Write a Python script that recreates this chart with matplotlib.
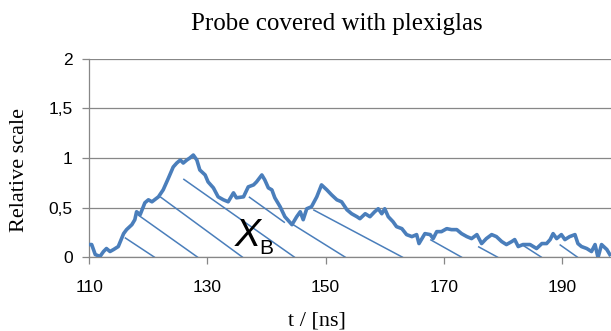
import matplotlib
matplotlib.use("Agg")
import matplotlib.pyplot as plt

# signal (t in ns, relative scale)
t_ns = [110.0, 110.4, 111.0, 111.8, 112.4, 112.9, 113.5, 114.1, 114.9, 115.8,
        116.3, 117.2, 117.7, 118.0, 118.6, 119.4, 120.0, 120.6, 121.7, 122.5,
        123.4, 124.2, 124.8, 125.4, 125.9, 126.5, 127.0, 127.6, 128.2, 128.7,
        129.6, 130.1, 131.0, 131.8, 132.7, 133.5, 134.4, 134.9, 136.1, 136.9,
        137.8, 138.3, 139.2, 139.7, 140.3, 140.9, 141.4, 142.3, 143.1, 144.3,
        145.1, 145.7, 146.2, 146.8, 147.6, 148.5, 149.3, 150.2, 151.0, 151.9,
        152.7, 153.6, 154.4, 155.3, 155.8, 156.7, 157.5, 158.3, 158.9, 159.5,
        160.0, 160.6, 161.4, 162.0, 162.9, 163.7, 164.6, 165.4, 165.8, 166.8,
        167.7, 168.2, 168.8, 169.6, 170.5, 171.3, 172.2, 173.0, 173.9, 174.7,
        175.6, 176.4, 177.2, 178.1, 178.9, 179.8, 180.6, 181.5, 182.0, 182.6,
        183.4, 184.6, 185.7, 186.6, 187.4, 188.0, 188.5, 189.1, 189.9, 190.5,
        191.3, 192.2, 192.7, 193.3, 194.2, 195.0, 195.6, 196.1, 196.7, 197.6,
        198.1]
signal = [0.13, 0.13, 0.03, 0.01, 0.06, 0.09, 0.06, 0.08, 0.11, 0.24,
          0.28, 0.33, 0.38, 0.46, 0.43, 0.55, 0.58, 0.56, 0.61, 0.68,
          0.80, 0.91, 0.95, 0.98, 0.95, 0.98, 1.00, 1.03, 0.98, 0.88,
          0.83, 0.76, 0.70, 0.61, 0.58, 0.56, 0.65, 0.60, 0.61, 0.71,
          0.73, 0.76, 0.83, 0.78, 0.70, 0.68, 0.60, 0.51, 0.41, 0.33,
          0.41, 0.46, 0.38, 0.49, 0.51, 0.61, 0.73, 0.68, 0.63, 0.58,
          0.56, 0.48, 0.44, 0.41, 0.39, 0.44, 0.41, 0.46, 0.49, 0.44,
          0.49, 0.41, 0.36, 0.31, 0.29, 0.23, 0.21, 0.23, 0.14, 0.24,
          0.23, 0.19, 0.26, 0.26, 0.29, 0.28, 0.28, 0.24, 0.21, 0.19,
          0.23, 0.14, 0.19, 0.23, 0.21, 0.16, 0.13, 0.16, 0.18, 0.11,
          0.13, 0.13, 0.09, 0.14, 0.14, 0.18, 0.24, 0.19, 0.23, 0.18,
          0.21, 0.23, 0.14, 0.11, 0.09, 0.06, 0.13, 0.00, 0.13, 0.08,
          0.03]

# hand-drawn hatch strokes marking the X_B area (start -> end)
hatch_t0 = [116.0, 118.2, 122.0, 125.9, 137.0, 144.5, 147.9, 167.7, 175.8, 183.2, 189.6]
hatch_v0 = [0.20, 0.43, 0.61, 0.79, 0.61, 0.33, 0.48, 0.18, 0.11, 0.13, 0.13]
hatch_t1 = [121.1, 128.4, 136.0, 144.8, 143.1, 153.4, 163.1, 173.1, 179.2, 186.6, 192.7]
hatch_v1 = [0.0, 0.0, 0.0, 0.0, 0.35, 0.0, 0.0, 0.0, 0.0, 0.0, 0.0]

x_ticks = [110, 130, 150, 170, 190]
y_ticks = [0, 0.5, 1, 1.5, 2]
y_labels = ["0", "0,5", "1", "1,5", "2"]

BLUE = "#4a7ebb"
GRAY = "#878787"
SANS = "Liberation Sans"
SERIF = "Liberation Serif"

fig = plt.figure(figsize=(6.11, 3.31), dpi=100)
ax = fig.add_axes([0.1462, 0.2221, 0.8538, 0.6009])

for a, b, c, d in zip(hatch_t0, hatch_v0, hatch_t1, hatch_v1):
    ax.plot([a, c], [b, d], color=BLUE, lw=1.1, solid_capstyle="butt", zorder=2)
ax.plot(t_ns, signal, color=BLUE, lw=2.6, solid_joinstyle="round", zorder=3)

ax.text(134.6, 0.115, "X", fontsize=28, fontstyle="italic", family=SANS,
        va="baseline", ha="left", zorder=4)
ax.text(138.7, 0.035, "B", fontsize=15, family=SANS, va="baseline", ha="left", zorder=4)

ax.set_xlim(110, 198.3)
ax.set_ylim(0, 2)
ax.set_xticks(x_ticks)
ax.set_yticks(y_ticks)
ax.set_yticklabels(y_labels)
ax.grid(axis="y", color=GRAY, lw=0.9)
ax.set_axisbelow(True)
for s in ["top", "right"]:
    ax.spines[s].set_visible(False)
for s in ["left", "bottom"]:
    ax.spines[s].set_color(GRAY)
    ax.spines[s].set_linewidth(0.9)
ax.tick_params(axis="both", colors=GRAY, length=5, width=0.9,
               labelcolor="black", labelsize=12.5)
ax.tick_params(axis="y", pad=7)
ax.tick_params(axis="x", pad=11)
for lbl in ax.get_xticklabels() + ax.get_yticklabels():
    lbl.set_family(SANS)

fig.text(0.5516, 0.9094, "Probe covered with plexiglas", family=SERIF,
         fontsize=18, ha="center", va="baseline")
fig.text(0.0327, 0.4864, "Relative scale", family=SERIF, fontsize=16,
         rotation=90, ha="center", va="center")
fig.text(0.5183, 0.0181, "t / [ns]", family=SERIF, fontsize=16,
         ha="center", va="baseline")

fig.savefig("out.png", dpi=100)
